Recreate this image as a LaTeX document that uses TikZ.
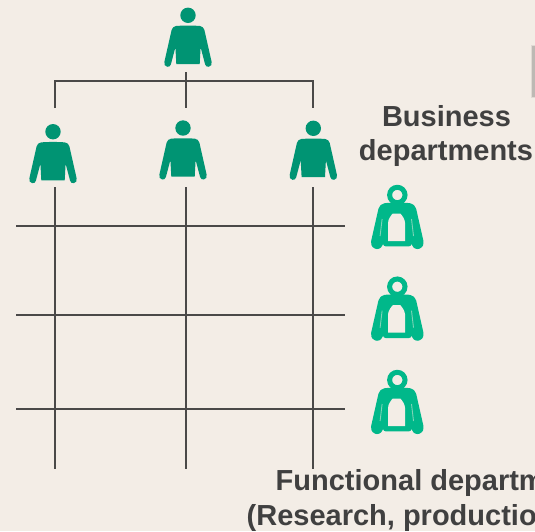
\documentclass[tikz,border=0pt]{standalone}
\usepackage{fontspec}
\setmainfont{Liberation Sans}
\definecolor{bgc}{HTML}{F3EDE6}
\definecolor{solidg}{HTML}{009473}
\definecolor{lineg}{HTML}{00B88A}
\definecolor{slitg}{HTML}{7FD4B8}
\definecolor{linec}{HTML}{4A4948}
\definecolor{textc}{HTML}{404040}
\tikzset{
  wire/.style={draw=linec,line width=2pt},
  headline/.style={font=\bfseries\fontsize{29}{34}\selectfont,text=textc,inner sep=0pt,anchor=base},
  bodyshape/.pic={
    \path[pic actions] (-12,10.7) .. controls (-5,10.1) and (5,10.1) .. (12,10.7)
      .. controls (14.2,11) and (15.8,12.5) .. (16.4,14.7)
      -- (23.6,46.5) .. controls (24.2,49) and (23,51.2) .. (20.8,51.5)
      .. controls (19,51.8) and (17.6,50.8) .. (17.1,49)
      -- (12.6,32) -- (11.7,48.7) -- (-11.7,48.7) -- (-12.6,32) -- (-17.1,49)
      .. controls (-17.6,50.8) and (-19,51.8) .. (-20.8,51.5)
      .. controls (-23,51.2) and (-24.2,49) .. (-23.6,46.5)
      -- (-16.4,14.7) .. controls (-15.8,12.5) and (-14.2,11) .. (-12,10.7) -- cycle;
  },
  solidperson/.pic={
    \fill[solidg] (0,0) circle (7.7);
    \pic[fill=solidg] {bodyshape};
  },
  outlineperson/.pic={
    \draw[lineg,line width=5pt] (0,0) circle (7.7);
    \pic[fill=lineg,draw=lineg,line width=5.2pt,line join=round] {bodyshape};
    \fill[lineg] (-15,20) rectangle (15,46);
    \fill[bgc] (-9.3,46) -- (-9.3,28) .. controls (-9.2,24) and (-6,20) .. (-4.5,18.5)
      -- (3,18.5) .. controls (4.5,20) and (7.6,24) .. (7.8,28) -- (7.8,46) -- cycle;
    \draw[slitg,line width=0.9pt] (-15.2,24) -- (-17.2,41);
    \draw[slitg,line width=0.9pt] (14.2,24) -- (16.2,41);
  }
}
\begin{document}
\begin{tikzpicture}[x=1pt,y=-1pt]
\useasboundingbox (0,0) rectangle (535,531);
\clip (0,0) rectangle (535,531);
\fill[bgc] (0,0) rectangle (535,531);
\fill[black!8!bgc] (530.5,44.5) rectangle (535,97.5);
\fill[black!22!bgc] (532,45.5) rectangle (535,96.5);

% people
\pic at (188,15.3) {solidperson};
\pic at (53,131.7) {solidperson};
\pic at (183,128) {solidperson};
\pic at (313.3,128.3) {solidperson};
\pic at (397.3,195) {outlineperson};
\pic at (397.3,286.7) {outlineperson};
\pic at (397.3,380) {outlineperson};

% connector ends
\coordinate (rootTop) at (186,72);
\coordinate (busL) at (55,81);
\coordinate (busR) at (313,81);
\coordinate (dropL) at (55,108);
\coordinate (dropM) at (186,108);
\coordinate (dropR) at (313,108);
\coordinate (colLt) at (55,187);
\coordinate (colLb) at (55,469);
\coordinate (colMt) at (186,187);
\coordinate (colMb) at (186,469);
\coordinate (colRt) at (313,187);
\coordinate (colRb) at (313,469);
\coordinate (rowAl) at (16,226);
\coordinate (rowAr) at (344.5,226);
\coordinate (rowBl) at (16,315);
\coordinate (rowBr) at (344.5,315);
\coordinate (rowCl) at (16,409);
\coordinate (rowCr) at (344.5,409);

\draw[wire] (dropL) -- (busL) -- (busR) -- (dropR);
\draw[wire] (rootTop) -- (dropM);
\draw[wire] (colLt) -- (colLb);
\draw[wire] (colMt) -- (colMb);
\draw[wire] (colRt) -- (colRb);
\draw[wire] (rowAl) -- (rowAr);
\draw[wire] (rowBl) -- (rowBr);
\draw[wire] (rowCl) -- (rowCr);

% labels
\node[headline] (business) at (446.5,126) {Business};
\node[headline] (departments) at (446,160) {departments};
\node[headline,anchor=base west] (functional) at (275.5,490.7) {Functional departments};
\node[headline,anchor=base west] (research) at (246.5,525) {(Research, production};
\end{tikzpicture}
\end{document}
